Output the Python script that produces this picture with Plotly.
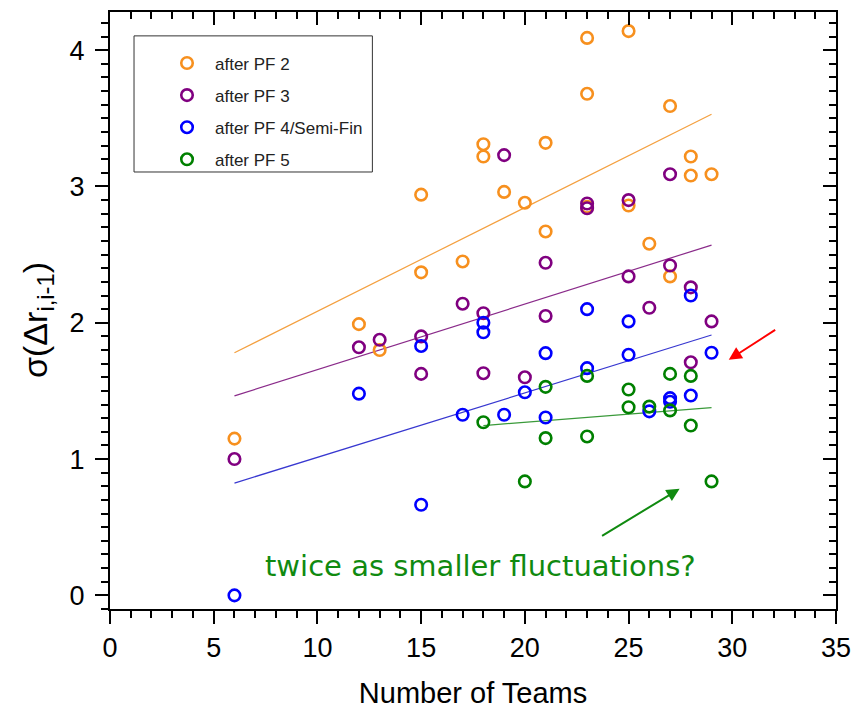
import plotly.graph_objects as go

# ---- data ----
pf2_x = [6, 12, 13, 15, 15, 17, 18, 18, 19, 20, 21, 21, 23, 23, 23, 25, 25, 26, 27, 27, 28, 28, 29]
pf2_y = [1.15, 1.99, 1.80, 2.94, 2.37, 2.45, 3.31, 3.22, 2.96, 2.88, 3.32, 2.67, 4.09, 3.68, 2.85, 4.14, 2.86, 2.58, 3.59, 2.34, 3.22, 3.08, 3.09]

pf3_x = [6, 12, 13, 15, 15, 17, 18, 18, 19, 20, 21, 21, 23, 23, 25, 25, 26, 27, 27, 28, 28, 29]
pf3_y = [1.00, 1.82, 1.875, 1.90, 1.625, 2.14, 2.07, 1.63, 3.23, 1.60, 2.44, 2.05, 2.875, 2.84, 2.90, 2.34, 2.11, 3.09, 2.42, 2.26, 1.71, 2.01]

pf4_x = [6, 12, 15, 15, 17, 18, 18, 19, 20, 21, 21, 23, 23, 25, 25, 26, 27, 27, 28, 28, 29]
pf4_y = [0.00, 1.48, 0.665, 1.83, 1.325, 2.00, 1.93, 1.325, 1.49, 1.777, 1.305, 2.10, 1.667, 2.01, 1.765, 1.35, 1.447, 1.42, 2.20, 1.466, 1.78]

pf5_x = [18, 20, 21, 21, 23, 23, 25, 25, 26, 27, 27, 28, 28, 29]
pf5_y = [1.27, 0.836, 1.53, 1.154, 1.61, 1.166, 1.51, 1.38, 1.385, 1.625, 1.357, 1.61, 1.246, 0.836]

# linear-fit lines (end points)
fit2_x, fit2_y = [6, 29], [1.78, 3.53]
fit3_x, fit3_y = [6, 29], [1.464, 2.57]
fit4_x, fit4_y = [6, 29], [0.824, 1.91]
fit5_x, fit5_y = [18, 29], [1.246, 1.378]

names = ["after PF 2", "after PF 3", "after PF 4/Semi-Fin", "after PF 5"]
x_ticks = [0, 5, 10, 15, 20, 25, 30, 35]
y_ticks = [0, 1, 2, 3, 4]

colors = ["#F7901E", "#800080", "#0000FF", "#008000"]
line_colors = ["#F4A040", "#8A2B8A", "#3838D0", "#3A9A3A"]

fig = go.Figure()

series = [(pf2_x, pf2_y, fit2_x, fit2_y), (pf3_x, pf3_y, fit3_x, fit3_y),
          (pf4_x, pf4_y, fit4_x, fit4_y), (pf5_x, pf5_y, fit5_x, fit5_y)]

for i, (sx, sy, fx, fy) in enumerate(series):
    fig.add_trace(go.Scatter(x=fx, y=fy, mode="lines", showlegend=False,
                             line=dict(color=line_colors[i], width=1.2), hoverinfo="skip"))

for i, (sx, sy, fx, fy) in enumerate(series):
    fig.add_trace(go.Scatter(x=sx, y=sy, mode="markers", name=names[i],
                             legendgroup=str(i),
                             marker=dict(symbol="circle-open", size=11.5,
                                         color=colors[i], line=dict(width=2.6, color=colors[i]))))

# invisible trace to activate mirrored axes
fig.add_trace(go.Scatter(x=[0], y=[0], xaxis="x2", yaxis="y2", mode="markers",
                         marker=dict(opacity=0), showlegend=False, hoverinfo="skip"))

axis_font = dict(family="Liberation Sans, Arial", size=27, color="black")
minor_out = dict(ticks="outside", ticklen=7, tickwidth=2, tickcolor="black")
minor_in = dict(ticks="inside", ticklen=7, tickwidth=2, tickcolor="black")

fig.update_layout(
    width=854, height=710,
    margin=dict(l=110, r=18, t=12, b=101),
    plot_bgcolor="white", paper_bgcolor="white",
    xaxis=dict(range=[0, 35], tickvals=x_ticks, ticks="outside", ticklen=13, tickwidth=2,
               tickcolor="black", showline=True, linecolor="black", linewidth=2,
               showgrid=False, zeroline=False, tickfont=axis_font, automargin=False,
               ticklabelstandoff=1,
               minor=dict(dtick=1, **minor_out),
               title=dict(text="Number of Teams", font=dict(family="Liberation Sans, Arial", size=29, color="black"), standoff=20)),
    yaxis=dict(range=[-0.1, 4.28], tickvals=y_ticks, ticks="outside", ticklen=13, tickwidth=2,
               tickcolor="black", showline=True, linecolor="black", linewidth=2,
               showgrid=False, zeroline=False, tickfont=axis_font, automargin=False,
               ticklabelstandoff=5,
               minor=dict(tick0=0, dtick=0.1, **minor_out)),
    xaxis2=dict(range=[0, 35], overlaying="x", side="top", tickvals=x_ticks, ticks="inside",
                ticklen=13, tickwidth=2, tickcolor="black", showticklabels=False, automargin=False,
                showline=True, linecolor="black", linewidth=2, showgrid=False, zeroline=False,
                minor=dict(dtick=1, **minor_in)),
    yaxis2=dict(range=[-0.1, 4.28], overlaying="y", side="right", tickvals=y_ticks, ticks="inside",
                ticklen=13, tickwidth=2, tickcolor="black", showticklabels=False, automargin=False,
                showline=True, linecolor="black", linewidth=2, showgrid=False, zeroline=False,
                minor=dict(tick0=0, dtick=0.1, **minor_in)),
    legend=dict(x=0.0675, y=0.944, xanchor="left", yanchor="top",
                borderwidth=0, bgcolor="rgba(255,255,255,0)",
                font=dict(family="Liberation Sans, Arial", size=17, color="#222222"),
                tracegroupgap=7, itemwidth=46),
    showlegend=True,
)

# y-axis title
fig.add_annotation(x=-0.1007, y=0.484, xref="paper", yref="paper", textangle=-90,
                   xanchor="center", yanchor="middle",
                   text="σ(Δr<sub>i,i-1</sub>)", showarrow=False,
                   font=dict(family="Liberation Sans, Arial", size=34, color="black"))

# legend frame
fig.add_shape(type="rect", xref="paper", yref="paper", x0=0.0331, x1=0.3614, y0=0.732, y1=0.960,
              line=dict(color="#333333", width=1), fillcolor="rgba(0,0,0,0)", layer="below")

fig.add_annotation(x=17.86, y=0.218, xref="x", yref="y", text="twice as smaller fluctuations?",
                   showarrow=False, font=dict(family="DejaVu Sans", size=29, color="#108A10"))
fig.add_annotation(x=27.46, y=0.782, ax=23.65, ay=0.43, xref="x", yref="y", axref="x", ayref="y",
                   text="", showarrow=True, arrowhead=2, arrowsize=1.3, arrowwidth=2, arrowcolor="#108A10")
fig.add_annotation(x=29.83, y=1.728, ax=32.14, ay=1.955, xref="x", yref="y", axref="x", ayref="y",
                   text="", showarrow=True, arrowhead=2, arrowsize=1.3, arrowwidth=2, arrowcolor="#FF0000")

fig.write_html("out.html")
